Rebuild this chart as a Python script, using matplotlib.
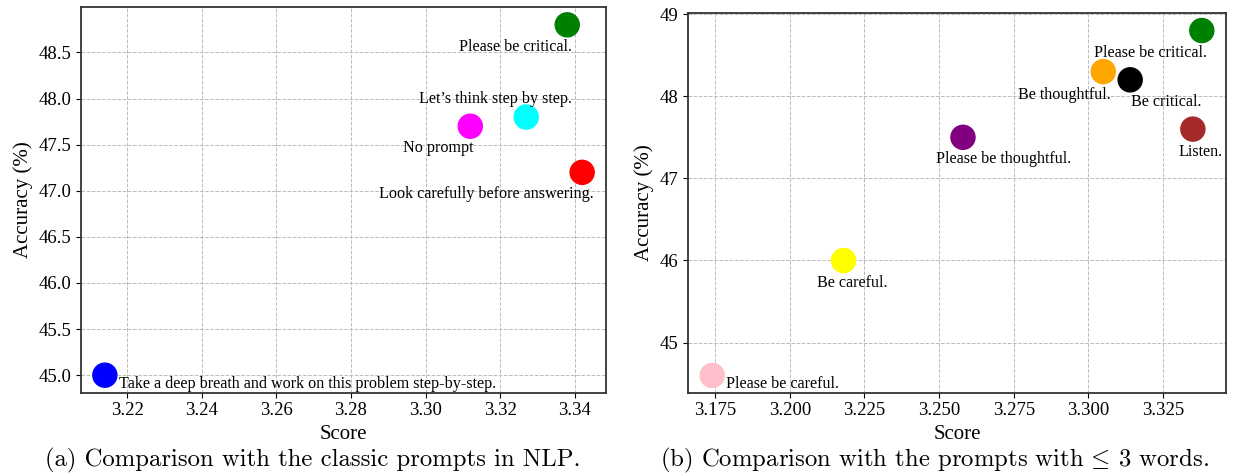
import matplotlib
matplotlib.use("Agg")
import matplotlib.pyplot as plt

plt.rcParams['font.family'] = ['Liberation Serif', 'DejaVu Serif']
plt.rcParams['mathtext.fontset'] = 'cm'

# (a) classic prompts
classic_labels = ["Please be critical.", "Let\u2019s think step by step.", "No prompt",
                  "Look carefully before answering.",
                  "Take a deep breath and work on this problem step-by-step."]
classic_score = [3.338, 3.327, 3.312, 3.342, 3.214]
classic_acc = [48.8, 47.8, 47.7, 47.2, 45.0]
classic_colors = ["green", "cyan", "magenta", "red", "blue"]

# (b) short prompts
short_labels = ["Please be critical.", "Be thoughtful.", "Be critical.", "Listen.",
                "Please be thoughtful.", "Be careful.", "Please be careful."]
short_score = [3.338, 3.305, 3.314, 3.335, 3.258, 3.218, 3.174]
short_acc = [48.8, 48.3, 48.2, 47.6, 47.5, 46.0, 44.6]
short_colors = ["green", "orange", "black", "brown", "purple", "yellow", "pink"]

# label offsets in pixels and alignment
classic_offsets = [(5, -22, 'right'), (46, 18, 'right'), (3, -22, 'right'),
                   (12, -22, 'right'), (14, -9, 'left')]
short_offsets = [(5, -22, 'right'), (7, -23, 'right'), (1, -22, 'left'),
                 (8, -23, 'center'), (-27, -22, 'left'), (-27, -23, 'left'),
                 (14, -9, 'left')]

W, H = 1233, 473
fig = plt.figure(figsize=(W / 100, H / 100), dpi=100)
ax1 = fig.add_axes([81 / W, 1 - 392.7 / H, 525 / W, 385.4 / H])
ax2 = fig.add_axes([687.7 / W, 1 - 392.7 / H, 538.6 / W, 379.4 / H])


def draw(ax, xs, ys, cols, labels, offsets):
    ax.scatter(xs, ys, c=cols, s=300, zorder=3)
    for x, y, lab, (dx, dy, ha) in zip(xs, ys, labels, offsets):
        ax.annotate(lab, (x, y), xytext=(dx, dy), textcoords='offset pixels',
                    ha=ha, va='center', fontsize=11.6, zorder=4)
    ax.grid(True, linestyle='--', color='#bbbbbb', linewidth=0.7)
    ax.set_axisbelow(True)
    ax.set_xlabel('Score', fontsize=15)
    ax.set_ylabel('Accuracy (%)', fontsize=15)
    ax.tick_params(labelsize=13.5)
    for sp in ax.spines.values():
        sp.set_color('#333333')
        sp.set_linewidth(1.3)


draw(ax1, classic_score, classic_acc, classic_colors, classic_labels, classic_offsets)
draw(ax2, short_score, short_acc, short_colors, short_labels, short_offsets)

ax1.set_yticks([45.0, 45.5, 46.0, 46.5, 47.0, 47.5, 48.0, 48.5])
ax1.set_xticks([3.22, 3.24, 3.26, 3.28, 3.30, 3.32, 3.34])
ax2.set_yticks([45, 46, 47, 48, 49])
ax2.set_xticks([3.175, 3.200, 3.225, 3.250, 3.275, 3.300, 3.325])
ax2.xaxis.set_major_formatter(matplotlib.ticker.FormatStrFormatter('%.3f'))

fig.text(45 / W, 1 - 460 / H, "(a) Comparison with the classic prompts in NLP.",
         family='cmr10', fontsize=17.8, ha='left', va='center')
fig.text(660 / W, 1 - 460 / H, r"(b) Comparison with the prompts with$\,\leq\,$3 words.",
         family='cmr10', fontsize=17.8, ha='left', va='center')

fig.savefig('out.png', dpi=100)
